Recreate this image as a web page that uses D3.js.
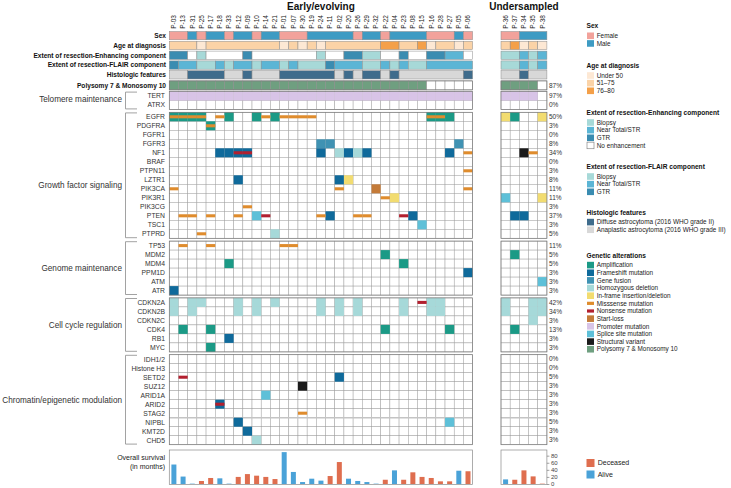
<!DOCTYPE html>
<html><head><meta charset="utf-8">
<script src="https://cdn.jsdelivr.net/npm/d3@7"></script>
<style>body{margin:0;background:#fff} svg{display:block;font-family:"Liberation Sans",Arial,Helvetica,sans-serif}</style>
</head><body><svg id="c" width="731" height="488"></svg>
<script>
// ---------------- DATA ----------------
const earlyPatients = ["P-03","P-13","P-31","P-25","P-17","P-18","P-33","P-12","P-09","P-10","P-14","P-21","P-01","P-07","P-30","P-19","P-24","P-11","P-02","P-20","P-26","P-29","P-32","P-22","P-04","P-23","P-08","P-15","P-16","P-28","P-27","P-05","P-06"];
const underPatients = ["P-36","P-37","P-34","P-35","P-38"];

const sexKeys = ["Female","Male"];
const sexVals = [0,0,1,0,1,1,0,1,1,0,1,1,0,0,0,1,1,1,1,1,0,1,1,0,1,1,1,1,0,0,0,1,0, 0,0,1,1,1];
const ageKeys = ["Under 50","51–75","76–80"];
const ageVals = [1,1,1,0,1,1,1,1,1,1,1,1,0,1,0,1,0,1,1,1,1,1,1,2,2,1,1,2,0,1,1,0,1, 1,2,0,1,0];
const enhKeys = ["Biopsy","Near Total/STR","GTR","No enhancement"];
const enhVals = [2,2,3,0,3,3,3,3,2,3,3,3,3,3,3,3,0,3,3,2,2,0,0,3,3,2,3,3,2,2,1,1,3, 0,0,1,0,1];
const flairKeys = ["Biopsy","Near Total/STR","GTR"];
const flairVals = [2,1,1,0,0,1,0,1,1,0,1,1,0,1,0,0,0,2,1,1,1,0,0,1,0,1,0,0,1,1,1,1,1, 0,0,1,0,1];
const histKeys = ["Diffuse astrocytoma (2016 WHO grade II)","Anaplastic astrocytoma (2016 WHO grade III)"];
const histVals = [1,1,0,0,0,0,1,1,0,1,1,1,0,0,0,0,0,0,1,0,1,0,0,1,0,1,1,1,1,1,1,1,0, 1,1,0,1,1];
const polyVals = [1,1,1,1,1,1,1,1,1,1,1,1,1,1,1,1,1,1,1,1,1,1,1,1,1,1,1,1,0,0,0,0,0, 1,1,1,1,0];
const tertVals = [1,1,1,1,1,1,1,1,1,1,1,1,1,1,1,1,1,1,1,1,1,1,1,1,1,1,1,1,1,1,1,1,1, 1,1,1,1,0];

const groupNames = ["Telomere maintenance","Growth factor signaling","Genome maintenance","Cell cycle regulation","Chromatin/epigenetic modulation"];
const groupGenes = [
  ["TERT","ATRX"],
  ["EGFR","PDGFRA","FGFR1","FGFR3","NF1","BRAF","PTPN11","LZTR1","PIK3CA","PIK3R1","PIK3CG","PTEN","TSC1","PTPRD"],
  ["TP53","MDM2","MDM4","PPM1D","ATM","ATR"],
  ["CDKN2A","CDKN2B","CDKN2C","CDK4","RB1","MYC"],
  ["IDH1/2","Histone H3","SETD2","SUZ12","ARID1A","ARID2","STAG2","NIPBL","KMT2D","CHD5"]
];
const polyPct = "87%";
const genePct = {"TERT":"97%","ATRX":"0%","EGFR":"50%","PDGFRA":"3%","FGFR1":"0%","FGFR3":"8%","NF1":"34%","BRAF":"0%","PTPN11":"3%","LZTR1":"8%","PIK3CA":"11%","PIK3R1":"11%","PIK3CG":"3%","PTEN":"37%","TSC1":"3%","PTPRD":"5%","TP53":"11%","MDM2":"5%","MDM4":"5%","PPM1D":"3%","ATM":"3%","ATR":"3%","CDKN2A":"42%","CDKN2B":"34%","CDKN2C":"3%","CDK4":"13%","RB1":"3%","MYC":"3%","IDH1/2":"0%","Histone H3":"0%","SETD2":"5%","SUZ12":"3%","ARID1A":"3%","ARID2":"3%","STAG2":"3%","NIPBL":"5%","KMT2D":"3%","CHD5":"3%"};

const altKeys = ["amp","fs","fus","hd","ifi","mis","non","sl","prom","spl","sv","poly"];
const altLabels = ["Amplification","Frameshift mutation","Gene fusion","Homozygous deletion","In-frame insertion/deletion","Misssense mutation","Nonsense mutation","Start-loss","Promoter mutation","Splice site mutation","Structural variant","Polysomy 7 & Monosomy 10"];

const alterations = [
  ["EGFR","P-03","amp"],["EGFR","P-03","mis"],["EGFR","P-13","amp"],["EGFR","P-13","mis"],["EGFR","P-31","amp"],["EGFR","P-31","mis"],["EGFR","P-25","amp"],["EGFR","P-25","mis"],
  ["EGFR","P-18","mis"],["EGFR","P-33","amp"],["EGFR","P-10","amp"],["EGFR","P-14","mis"],["EGFR","P-21","amp"],["EGFR","P-01","mis"],["EGFR","P-07","mis"],["EGFR","P-30","mis"],["EGFR","P-19","mis"],
  ["EGFR","P-16","amp"],["EGFR","P-16","mis"],["EGFR","P-28","amp"],["EGFR","P-28","mis"],["EGFR","P-27","amp"],["EGFR","P-36","ifi"],["EGFR","P-37","amp"],["EGFR","P-38","ifi"],
  ["PDGFRA","P-17","amp"],["PDGFRA","P-17","mis"],
  ["FGFR3","P-24","fus"],["FGFR3","P-11","fus"],["FGFR3","P-05","fus"],
  ["NF1","P-18","fs"],["NF1","P-33","fs"],["NF1","P-12","fs"],["NF1","P-12","non"],["NF1","P-09","fs"],["NF1","P-09","non"],["NF1","P-24","fs"],["NF1","P-02","hd"],["NF1","P-20","fs"],["NF1","P-26","hd"],["NF1","P-29","fs"],["NF1","P-27","fs"],["NF1","P-06","mis"],["NF1","P-34","sv"],["NF1","P-35","mis"],
  ["PTPN11","P-06","mis"],
  ["LZTR1","P-12","fs"],["LZTR1","P-02","fs"],["LZTR1","P-20","ifi"],
  ["PIK3CA","P-03","mis"],["PIK3CA","P-02","mis"],["PIK3CA","P-32","sl"],["PIK3CA","P-06","mis"],
  ["PIK3R1","P-22","mis"],["PIK3R1","P-04","ifi"],["PIK3R1","P-36","spl"],["PIK3R1","P-38","ifi"],
  ["PIK3CG","P-09","mis"],
  ["PTEN","P-13","mis"],["PTEN","P-31","mis"],["PTEN","P-17","mis"],["PTEN","P-12","mis"],["PTEN","P-10","spl"],["PTEN","P-14","non"],["PTEN","P-24","mis"],["PTEN","P-11","fs"],["PTEN","P-26","mis"],["PTEN","P-29","mis"],["PTEN","P-23","non"],["PTEN","P-08","fs"],["PTEN","P-37","fs"],["PTEN","P-34","fs"],
  ["TSC1","P-15","spl"],
  ["PTPRD","P-25","mis"],["PTPRD","P-21","hd"],
  ["TP53","P-13","mis"],["TP53","P-17","mis"],["TP53","P-01","mis"],["TP53","P-07","mis"],
  ["MDM2","P-22","amp"],["MDM2","P-37","amp"],
  ["MDM4","P-33","amp"],["MDM4","P-23","amp"],
  ["PPM1D","P-06","fs"],["ATM","P-38","spl"],["ATR","P-03","fs"],
  ["CDKN2A","P-03","hd"],["CDKN2A","P-31","hd"],["CDKN2A","P-25","hd"],["CDKN2A","P-12","hd"],["CDKN2A","P-10","hd"],["CDKN2A","P-21","hd"],["CDKN2A","P-24","hd"],["CDKN2A","P-02","hd"],["CDKN2A","P-26","hd"],["CDKN2A","P-23","hd"],["CDKN2A","P-15","non"],["CDKN2A","P-16","hd"],["CDKN2A","P-28","hd"],["CDKN2A","P-36","hd"],["CDKN2A","P-35","hd"],["CDKN2A","P-38","hd"],
  ["CDKN2B","P-03","hd"],["CDKN2B","P-31","hd"],["CDKN2B","P-12","hd"],["CDKN2B","P-10","hd"],["CDKN2B","P-24","hd"],["CDKN2B","P-02","hd"],["CDKN2B","P-26","hd"],["CDKN2B","P-23","hd"],["CDKN2B","P-16","hd"],["CDKN2B","P-28","hd"],["CDKN2B","P-36","hd"],["CDKN2B","P-35","hd"],["CDKN2B","P-38","hd"],
  ["CDKN2C","P-35","hd"],
  ["CDK4","P-13","amp"],["CDK4","P-17","amp"],["CDK4","P-22","amp"],["CDK4","P-27","amp"],["CDK4","P-37","amp"],
  ["RB1","P-33","fs"],["MYC","P-17","amp"],
  ["SETD2","P-13","non"],["SETD2","P-02","fs"],["SUZ12","P-30","sv"],["ARID1A","P-14","spl"],["ARID2","P-18","fs"],["ARID2","P-18","non"],["STAG2","P-30","mis"],
  ["NIPBL","P-12","fs"],["NIPBL","P-27","spl"],["KMT2D","P-09","fs"],["CHD5","P-10","hd"]
];

const survMonths = [55,21,1,8.5,17,16,1,20,28,23.5,20,14,90,34,5.5,15,9.5,22.5,62,15,8.5,5.5,1,12,38.5,12,33,20,17,7.5,7.5,37.5,36, 13,12,38.5,21.5,1];
const survStatus = ["A","A","A","D","D","A","A","D","D","D","D","D","A","A","A","A","A","D","D","A","A","A","A","D","A","D","D","D","D","D","D","A","D", "A","D","D","D","D"];
const survKeys = ["Deceased","Alive"];
const survTicks = [0,20,40,60,80];

// ---------------- STYLE ----------------
const sexColors = ["#f2a29b","#3e9bc3"];
const ageColors = ["#fde8d4","#fbd3a7","#f4a049"];
const enhColors = ["#a7d9d8","#5bb5d5","#3a8cb1","#ffffff"];
const flairColors = ["#a7d9d8","#5bb5d5","#3a8cb1"];
const histColors = ["#3f6c8c","#d8d8d8"];
const altColors = {amp:"#1b9a86",fs:"#0f6a9b",fus:"#3f92b3",hd:"#a6d9d9",ifi:"#f2dc70",mis:"#df8c2d",non:"#b2202f",sl:"#c47b39",prom:"#d8c4e7",spl:"#5ec0d8",sv:"#1b1b1b",poly:"#6f9f80"};
const barTypes = ["mis","non"];
const survColors = {D:"#df6e4f", A:"#4aa2d8"};
const groupLabelShift = [-1.5, 10, 0, 0, 0];

const allPatients = earlyPatients.concat(underPatients);
const svg = d3.select("#c");
const xE = d3.scaleBand().domain(earlyPatients).range([169.3, 472.6]);
const xU = d3.scaleBand().domain(underPatients).range([501, 546.9]);
const panels = [{pats: earlyPatients, x: xE}, {pats: underPatients, x: xU}];
const xOf = p => earlyPatients.includes(p) ? xE(p) : xU(p);
const bw = xE.bandwidth();
const idx = p => allPatients.indexOf(p);

// Titles
svg.append("text").attr("x", (xE.range()[0]+xE.range()[1])/2).attr("y", 9.5).attr("text-anchor","middle")
  .attr("font-size",10).attr("font-weight","bold").attr("fill","#111").text("Early/evolving");
svg.append("text").attr("x", (xU.range()[0]+xU.range()[1])/2).attr("y", 9.5).attr("text-anchor","middle")
  .attr("font-size",10).attr("font-weight","bold").attr("fill","#111").text("Undersampled");

// Patient IDs
svg.append("g").selectAll("text").data(allPatients).join("text")
  .attr("transform", p => `translate(${xOf(p)+bw/2},28.8) rotate(-90)`)
  .attr("dy","0.35em").attr("font-size",6.5).attr("fill","#222").text(p => p);

// Clinical tracks
const clinRows = [
  {label:"Sex", vals:sexVals, colors:sexColors},
  {label:"Age at diagnosis", vals:ageVals, colors:ageColors},
  {label:"Extent of resection-Enhancing component", vals:enhVals, colors:enhColors},
  {label:"Extent of resection-FLAIR component", vals:flairVals, colors:flairColors},
  {label:"Histologic features", vals:histVals, colors:histColors}
];
const yClin = d3.scaleBand().domain(clinRows.map(r=>r.label)).range([31.5, 79]).paddingInner(0.153);
const gClin = svg.append("g");
clinRows.forEach(r => {
  panels.forEach(pn => {
    const runs = [];
    pn.pats.forEach(p => {
      const v = r.vals[idx(p)];
      if (runs.length && runs[runs.length-1].v === v) runs[runs.length-1].end = p;
      else runs.push({v, start:p, end:p});
    });
    gClin.selectAll(null).data(runs).join("rect")
      .attr("x", d => pn.x(d.start)).attr("y", yClin(r.label))
      .attr("width", d => pn.x(d.end)+pn.x.bandwidth()-pn.x(d.start)).attr("height", yClin.bandwidth())
      .attr("fill", d => r.colors[d.v]).attr("stroke","#8c8c8c").attr("stroke-width",0.5);
  });
  gClin.append("text").attr("x",166).attr("y",yClin(r.label)+yClin.bandwidth()/2).attr("dy","0.35em")
    .attr("text-anchor","end").attr("font-size",6.6).attr("font-weight","bold").attr("fill","#111").text(r.label);
});

// Polysomy row
const polyY = 80.9, rowH = 9;
panels.forEach(pn => {
  svg.append("g").selectAll("rect").data(pn.pats).join("rect")
    .attr("x", p => pn.x(p)).attr("y", polyY).attr("width", pn.x.bandwidth()).attr("height", rowH)
    .attr("fill", p => polyVals[idx(p)] ? altColors.poly : "#fff").attr("stroke","#8a8a8a").attr("stroke-width",0.5);
  svg.append("rect").attr("x", pn.x.range()[0]).attr("y", polyY).attr("width", pn.x.range()[1]-pn.x.range()[0]).attr("height", rowH)
    .attr("fill","none").attr("stroke","#777").attr("stroke-width",0.7);
});
svg.append("text").attr("x",166).attr("y",polyY+rowH/2).attr("dy","0.35em").attr("text-anchor","end")
  .attr("font-size",6.6).attr("font-weight","bold").attr("fill","#111").text("Polysomy 7 & Monosomy 10");
svg.append("text").attr("x",549).attr("y",polyY+rowH/2).attr("dy","0.35em").attr("font-size",6.5).attr("fill","#333").text(polyPct);

// Gene groups layout
const groups = [];
let yCur = 91.5;
groupNames.forEach((name, i) => {
  const genes = groupGenes[i];
  const y0 = yCur, y1 = yCur + genes.length*rowH;
  groups.push({name, genes, y0, y1, shift: groupLabelShift[i], y: d3.scaleBand().domain(genes).range([y0, y1])});
  yCur = y1 + 2.8;
});
const geneY = {};
groups.forEach(g => g.genes.forEach(gn => geneY[gn] = g.y(gn)));

const marks = alterations.map(a => ({gene:a[0], p:a[1], t:a[2]}));
tertVals.forEach((v,i) => { if (v) marks.push({gene:"TERT", p:allPatients[i], t:"prom"}); });

const gGrid = svg.append("g");
groups.forEach(g => {
  panels.forEach(pn => {
    const cells = [];
    g.genes.forEach(gn => pn.pats.forEach(p => cells.push({gn, p})));
    gGrid.selectAll(null).data(cells).join("rect")
      .attr("x", d => pn.x(d.p)).attr("y", d => g.y(d.gn)).attr("width", pn.x.bandwidth()).attr("height", g.y.bandwidth())
      .attr("fill","#fff").attr("stroke","#a2a2a2").attr("stroke-width",0.5);
  });
});
// STAG2 / NIPBL separator
panels.forEach(pn => {
  gGrid.append("line").attr("x1", pn.x.range()[0]).attr("x2", pn.x.range()[1])
    .attr("y1", geneY["NIPBL"]).attr("y2", geneY["NIPBL"]).attr("stroke","#c4c4c4").attr("stroke-width",1.4);
});

const gMarks = svg.append("g");
gMarks.selectAll(".full").data(marks.filter(m => !barTypes.includes(m.t))).join("rect")
  .attr("x", m => xOf(m.p)).attr("y", m => geneY[m.gene]).attr("width", bw).attr("height", rowH)
  .attr("fill", m => altColors[m.t]);
gMarks.selectAll(".bar").data(marks.filter(m => barTypes.includes(m.t))).join("rect")
  .attr("x", m => xOf(m.p)).attr("y", m => geneY[m.gene] + rowH*0.33).attr("width", bw).attr("height", rowH*0.34)
  .attr("fill", m => altColors[m.t]);

// group outlines, labels, brackets
groups.forEach(g => {
  panels.forEach(pn => {
    svg.append("rect").attr("x", pn.x.range()[0]).attr("y", g.y0).attr("width", pn.x.range()[1]-pn.x.range()[0]).attr("height", g.y1-g.y0)
      .attr("fill","none").attr("stroke","#7a7a7a").attr("stroke-width",0.7);
  });
  svg.append("path").attr("d", `M137,${g.y0+0.6}H125.5V${g.y1-0.6}H137`).attr("fill","none").attr("stroke","#8a8a8a").attr("stroke-width",0.8);
  svg.append("text").attr("x",122).attr("y",(g.y0+g.y1)/2 + g.shift).attr("dy","0.35em").attr("text-anchor","end")
    .attr("font-size",8.2).attr("fill","#333").text(g.name);
  g.genes.forEach(gn => {
    svg.append("text").attr("x",165).attr("y", g.y(gn)+rowH/2).attr("dy","0.35em").attr("text-anchor","end")
      .attr("font-size",6.8).attr("fill","#333").text(gn);
    svg.append("text").attr("x",549).attr("y", g.y(gn)+rowH/2).attr("dy","0.35em")
      .attr("font-size",6.5).attr("fill","#333").text(genePct[gn]);
  });
});

// Survival panel
const yS = d3.scaleLinear().domain([0,96]).range([484,450]);
panels.forEach(pn => {
  svg.append("rect").attr("x", pn.x.range()[0]).attr("y", 450).attr("width", pn.x.range()[1]-pn.x.range()[0]).attr("height", 34.5)
    .attr("fill","#fff").attr("stroke","#8a8a8a").attr("stroke-width",0.7);
  svg.append("g").selectAll("rect").data(pn.pats).join("rect")
    .attr("x", p => pn.x(p)+pn.x.bandwidth()/2-2.5).attr("width",5)
    .attr("y", p => yS(survMonths[idx(p)])).attr("height", p => yS(0)-yS(survMonths[idx(p)]))
    .attr("fill", p => survColors[survStatus[idx(p)]]);
});
const ax = svg.append("g").attr("transform",`translate(${xU.range()[1]},0)`)
  .call(d3.axisRight(yS).tickValues(survTicks).tickSize(2.5).tickPadding(1.5));
ax.select(".domain").remove();
ax.selectAll("line").attr("stroke","#666").attr("stroke-width",0.6);
ax.selectAll("text").attr("font-size",6).attr("fill","#444").attr("font-family","inherit");
svg.append("text").attr("x",165).attr("y",460).attr("text-anchor","end").attr("font-size",7).attr("fill","#222").text("Overall survival");
svg.append("text").attr("x",165).attr("y",469).attr("text-anchor","end").attr("font-size",7).attr("fill","#222").text("(in months)");

// Legends
const lg = svg.append("g");
const swX = 587, txX = 596.7, step = 7.65;
function legendBlock(title, ty, labels, colors, opts={}) {
  lg.append("text").attr("x", swX-0.5).attr("y", ty).attr("dy","0.35em").attr("font-size",6.6).attr("font-weight","bold").attr("fill","#111").text(title);
  labels.forEach((l,i) => {
    const cy = ty + 9.8 + i*step;
    const isBar = opts.bars && opts.bars[i];
    lg.append("rect").attr("x", swX).attr("y", isBar ? cy-1.6 : cy-3.3).attr("width",7).attr("height", isBar ? 3.2 : 6.6)
      .attr("fill", colors[i]).attr("stroke", colors[i] === "#ffffff" ? "#777" : "none").attr("stroke-width",0.6);
    lg.append("text").attr("x", txX).attr("y", cy).attr("dy","0.35em").attr("font-size",6.4).attr("fill","#222").text(l);
  });
}
legendBlock("Sex", 26, sexKeys, sexColors);
legendBlock("Age at diagnosis", 65.7, ageKeys, ageColors);
legendBlock("Extent of resection-Enhancing component", 112.7, enhKeys, enhColors);
legendBlock("Extent of resection-FLAIR component", 166.7, flairKeys, flairColors);
legendBlock("Histologic features", 212.3, histKeys, histColors);
legendBlock("Genetic alterations", 255.3, altLabels, altKeys.map(k => altColors[k]), {bars: altKeys.map(k => barTypes.includes(k))});
// survival legend
["D","A"].forEach((k,i) => {
  const cy = 463 + i*11.5;
  lg.append("rect").attr("x", swX-0.5).attr("y", cy-4).attr("width",8).attr("height",8).attr("fill", survColors[k]);
  lg.append("text").attr("x", txX+1).attr("y", cy).attr("dy","0.35em").attr("font-size",7).attr("fill","#222").text(survKeys[i]);
});
</script></body></html>
